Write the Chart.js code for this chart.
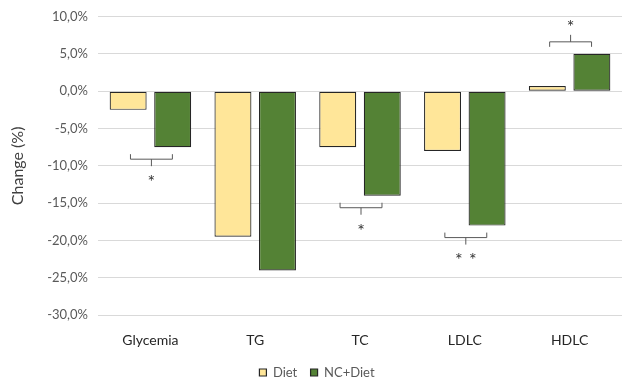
<!DOCTYPE html>
<html>
<head>
<meta charset="utf-8">
<script src="https://cdn.jsdelivr.net/npm/chart.js@4"></script>
<style>
  html, body { margin: 0; padding: 0; background: #fff; }
  #wrap { width: 622px; height: 379px; }
</style>
</head>
<body>
<div id="wrap"><canvas id="chart"></canvas></div>
<script>
// Dados do gráfico
const categories = ['Glycemia', 'TG', 'TC', 'LDLC', 'HDLC'];
const dietValues = [-2.5, -19.5, -7.5, -8.0, 0.7];
const ncDietValues = [-7.5, -24.0, -14.0, -18.0, 5.0];
const significance = ['*', '', '*', '* *', '*'];
const yTicks = [10, 5, 0, -5, -10, -15, -20, -25, -30];

const fontFamily = 'Lato, "Open Sans", sans-serif';

function formatPercent(v) {
    return v.toFixed(1).replace('.', ',') + '%';
}

// Colchetes e asteriscos de significância
const bracketPlugin = {
    id: 'brackets',
    afterDatasetsDraw(chart) {
        const ctx = chart.ctx;
        const xs = chart.scales.x;
        const ys = chart.scales.y;
        const half = xs.width / categories.length * 0.2;
        ctx.save();
        ctx.strokeStyle = '#595959';
        ctx.lineWidth = 1;
        ctx.fillStyle = '#333';
        ctx.font = '18px ' + fontFamily;
        ctx.textAlign = 'center';
        ctx.textBaseline = 'middle';
        significance.forEach((mark, i) => {
            if (!mark) return;
            const cx = xs.getPixelForValue(i) + 1;
            const lo = Math.min(dietValues[i], ncDietValues[i]);
            const hi = Math.max(dietValues[i], ncDietValues[i]);
            const up = lo >= 0;
            const dir = up ? -1 : 1;
            const base = up ? ys.getPixelForValue(hi) : ys.getPixelForValue(lo);
            const yEnd = base + dir * 7;
            const yLine = yEnd + dir * 5;
            const yTick = yLine + dir * 7;
            ctx.beginPath();
            ctx.moveTo(cx - half, yEnd);
            ctx.lineTo(cx - half, yLine);
            ctx.lineTo(cx + half, yLine);
            ctx.lineTo(cx + half, yEnd);
            ctx.moveTo(cx, yLine);
            ctx.lineTo(cx, yTick);
            ctx.stroke();
            // cada asterisco separado
            const stars = mark.split(' ');
            const step = 14;
            stars.forEach((s, k) => {
                const sx = cx + (k - (stars.length - 1) / 2) * step;
                ctx.fillText(s, sx, yLine + dir * 19 + 4);
            });
        });
        ctx.restore();
    }
};

const ctx = document.getElementById('chart').getContext('2d');
new Chart(ctx, {
    type: 'bar',
    data: {
        labels: categories,
        datasets: [
            {
                label: 'Diet',
                data: dietValues,
                backgroundColor: '#FFE699',
                borderColor: '#262626',
                borderWidth: 1.2,
                borderSkipped: false,
                categoryPercentage: 0.85,
                barPercentage: 0.83
            },
            {
                label: 'NC+Diet',
                data: ncDietValues,
                backgroundColor: '#548235',
                borderColor: '#262626',
                borderWidth: 1.2,
                borderSkipped: false,
                categoryPercentage: 0.85,
                barPercentage: 0.83
            }
        ]
    },
    options: {
        responsive: true,
        maintainAspectRatio: false,
        animation: false,
        layout: { padding: { top: -2, right: -8, left: 4, bottom: -10 } },
        plugins: {
            legend: {
                position: 'bottom',
                labels: {
                    boxWidth: 7,
                    boxHeight: 7,
                    padding: 0,
                    color: '#595959',
                    font: { family: fontFamily, size: 13 },
                    useBorderRadius: false,
                    // espaço entre os itens da legenda
                    generateLabels: function(chart) {
                        const items = Chart.defaults.plugins.legend.labels.generateLabels(chart);
                        items.forEach((item, i) => {
                            if (i < items.length - 1) item.text = item.text + '    ';
                        });
                        return items;
                    }
                }
            },
            tooltip: { enabled: false }
        },
        scales: {
            x: {
                grid: { display: false, drawTicks: false },
                border: { display: false },
                ticks: {
                    color: '#262626',
                    padding: 17,
                    font: { family: fontFamily, size: 14 }
                }
            },
            y: {
                min: -30,
                max: 10,
                afterBuildTicks: function(axis) {
                    axis.ticks = yTicks.map(v => ({ value: v }));
                },
                grid: { color: '#d9d9d9', lineWidth: 1, drawTicks: false },
                border: { display: false },
                ticks: {
                    color: '#595959',
                    padding: 10,
                    font: { family: fontFamily, size: 13, lineHeight: 1 },
                    callback: function(value) {
                        return formatPercent(value);
                    }
                },
                title: {
                    display: true,
                    text: 'Change (%)',
                    color: '#404040',
                    padding: { bottom: 10 },
                    font: { family: fontFamily, size: 16 }
                }
            }
        }
    },
    plugins: [bracketPlugin]
});
</script>
</body>
</html>
